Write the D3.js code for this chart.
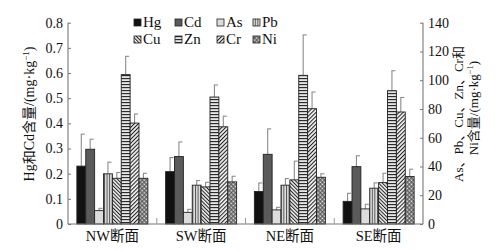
<!DOCTYPE html>
<html><head><meta charset="utf-8">
<script src="https://cdn.jsdelivr.net/npm/d3@7"></script>
<style>
body{margin:0;background:#fff;}
svg text{font-family:"Liberation Serif","Times New Roman","DejaVu Serif","Noto Sans CJK SC",serif !important;fill:#111;}
</style></head>
<body><svg id="c" width="500" height="251"></svg>
<script>
const groups = ["NW断面","SW断面","NE断面","SE断面"];
const elements = ["Hg","Cd","As","Pb","Cu","Zn","Cr","Ni"];
const leftElements = ["Hg","Cd"];
// means and standard deviations per element, in group order
const hgMean = [0.23,0.208,0.129,0.09],  hgSd = [0.127,0.056,0.034,0.032];
const cdMean = [0.297,0.268,0.277,0.228], cdSd = [0.04,0.058,0.101,0.043];
const asMean = [9.3,8.1,9.8,10.5],        asSd = [1.6,2.1,1.8,3.2];
const pbMean = [34.9,27,27,24.9],         pbSd = [8.1,3.2,4.6,3.7];
const cuMean = [31.8,25.8,30.7,28.8],     cuSd = [4,3.2,13,6.5];
const znMean = [103.9,88.3,103.4,92.7],   znSd = [12.7,8.4,28.1,13.9];
const crMean = [70.2,67.6,80.2,77.9],     crSd = [6.3,7.4,11.6,10.1];
const niMean = [31.8,29.3,32.5,33],       niSd = [3.5,3.9,2.4,5.1];
const leftTicks = [0,0.1,0.2,0.3,0.4,0.5,0.6,0.7,0.8];
const rightTicks = [0,20,40,60,80,100,120,140];

const series = {Hg:[hgMean,hgSd],Cd:[cdMean,cdSd],As:[asMean,asSd],Pb:[pbMean,pbSd],
  Cu:[cuMean,cuSd],Zn:[znMean,znSd],Cr:[crMean,crSd],Ni:[niMean,niSd]};

const svg = d3.select("#c");
const L=68, R=423, T=22.7, B=224;
const yL = d3.scaleLinear().domain([0,0.8]).range([B,T]);
const yR = d3.scaleLinear().domain([0,140]).range([B,T]);
const xG = d3.scaleBand().domain(groups).range([L,R]);
const xE = d3.scaleBand().domain(elements).range([xG.bandwidth()*0.1, xG.bandwidth()*0.9]);

// patterns
const defs = svg.append("defs");
function pat(id,w,h,draw,rot){
  const p = defs.append("pattern").attr("id",id).attr("patternUnits","userSpaceOnUse")
    .attr("width",w).attr("height",h);
  if(rot) p.attr("patternTransform","rotate("+rot+")");
  draw(p);
}
pat("pPb",2.6,10,p=>{p.append("rect").attr("width",2.6).attr("height",10).attr("fill","#e0e0e0");
  p.append("line").attr("x1",0.5).attr("x2",0.5).attr("y1",0).attr("y2",10).attr("stroke","#444").attr("stroke-width",0.9);});
pat("pZn",10,3,p=>{p.append("rect").attr("width",10).attr("height",3).attr("fill","#e6e6e6");
  p.append("line").attr("y1",0.6).attr("y2",0.6).attr("x1",0).attr("x2",10).attr("stroke","#222").attr("stroke-width",1.1);});
pat("pCu",2.6,10,p=>{p.append("rect").attr("width",2.6).attr("height",10).attr("fill","#eee");
  p.append("line").attr("x1",0.5).attr("x2",0.5).attr("y1",0).attr("y2",10).attr("stroke","#222").attr("stroke-width",1);},-45);
pat("pCr",2.8,10,p=>{p.append("rect").attr("width",2.8).attr("height",10).attr("fill","#eee");
  p.append("line").attr("x1",0.5).attr("x2",0.5).attr("y1",0).attr("y2",10).attr("stroke","#222").attr("stroke-width",1);},45);
pat("pNi",3,3,p=>{p.append("rect").attr("width",3).attr("height",3).attr("fill","#555");
  p.append("rect").attr("x",0.5).attr("y",0.5).attr("width",1.7).attr("height",1.7).attr("fill","#eee");},45);
const fills = {Hg:"#111",Cd:"#5a5a5a",As:"#dcdcdc",Pb:"url(#pPb)",Cu:"url(#pCu)",Zn:"url(#pZn)",Cr:"url(#pCr)",Ni:"url(#pNi)"};

// bars
const data = [];
groups.forEach((g,gi)=>elements.forEach(e=>{
  data.push({g,e,v:series[e][0][gi],sd:series[e][1][gi],y:leftElements.includes(e)?yL:yR});
}));
const bw = xE.bandwidth();
// error bars
const eb = svg.append("g").attr("stroke","#8c8c8c").attr("stroke-width",1.1);
data.forEach(d=>{
  const cx = xG(d.g)+xE(d.e)+bw/2;
  eb.append("line").attr("x1",cx).attr("x2",cx).attr("y1",d.y(d.v)).attr("y2",d.y(d.v+d.sd));
  eb.append("line").attr("x1",cx-0.5).attr("x2",cx+3.5).attr("y1",d.y(d.v+d.sd)).attr("y2",d.y(d.v+d.sd));
});
svg.append("g").selectAll("rect").data(data).join("rect")
  .attr("x",d=>xG(d.g)+xE(d.e)).attr("width",bw)
  .attr("y",d=>d.y(d.v)).attr("height",d=>B-d.y(d.v))
  .attr("fill",d=>fills[d.e]).attr("stroke","#222").attr("stroke-width",0.9);

// axes
const aL = svg.append("g").attr("transform",`translate(${L},0)`)
  .call(d3.axisLeft(yL).tickValues(leftTicks).tickSize(-3).tickPadding(5).tickFormat(d=>d===0?"0":d3.format(".1f")(d)));
const aR = svg.append("g").attr("transform",`translate(${R},0)`)
  .call(d3.axisRight(yR).tickValues(rightTicks).tickSize(-3).tickPadding(5));
const aX = svg.append("g").attr("transform",`translate(0,${B})`)
  .call(d3.axisBottom(xG).tickSize(0).tickPadding(7));
[aL,aR,aX].forEach(a=>{a.attr("font-family",null);
  a.select(".domain").attr("stroke","#777").attr("stroke-width",1.1);
  a.selectAll(".tick line").attr("stroke","#777");
  a.selectAll("text").attr("font-size",14).attr("fill","#111");});
aX.selectAll("text").attr("font-size",14.5);
aL.select(".domain").attr("d",`M0,${T}V${B}`);
aR.select(".domain").attr("d",`M0,${T}V${B}`);
aX.select(".domain").attr("d",`M${L},0H${R}`);
// group separators
svg.append("g").selectAll("line").data(groups.slice(1)).join("line")
  .attr("x1",d=>xG(d)).attr("x2",d=>xG(d)).attr("y1",B).attr("y2",B-6)
  .attr("stroke","#999").attr("stroke-width",1);

// axis titles
svg.append("text").attr("transform","translate(34,114) rotate(-90)").attr("text-anchor","middle")
  .attr("font-size",14).html('Hg和Cd含量/(mg·kg<tspan dy="-5" font-size="9">−1</tspan><tspan dy="5">)</tspan>');
svg.append("text").attr("transform","translate(463,114) rotate(-90)").attr("text-anchor","middle")
  .attr("font-size",13).text("As、Pb、Cu、Zn、Cr和");
svg.append("text").attr("transform","translate(478,108) rotate(-90)").attr("text-anchor","middle")
  .attr("font-size",13).html('Ni含量/(mg·kg<tspan dy="-5" font-size="8.5">−1</tspan><tspan dy="5">)</tspan>');

// legend
const lg = svg.append("g");
elements.forEach((e,i)=>{
  const col=i%4,row=Math.floor(i/4);
  const x=[134,175,217,253][col], y=[25,42][row];
  lg.append("rect").attr("x",x).attr("y",y-6).attr("width",7).attr("height",7)
    .attr("fill",fills[e]).attr("stroke","#222").attr("stroke-width",0.8);
  lg.append("text").attr("x",x+9).attr("y",y+1.5).attr("font-size",15).text(e);
});
</script></body></html>
